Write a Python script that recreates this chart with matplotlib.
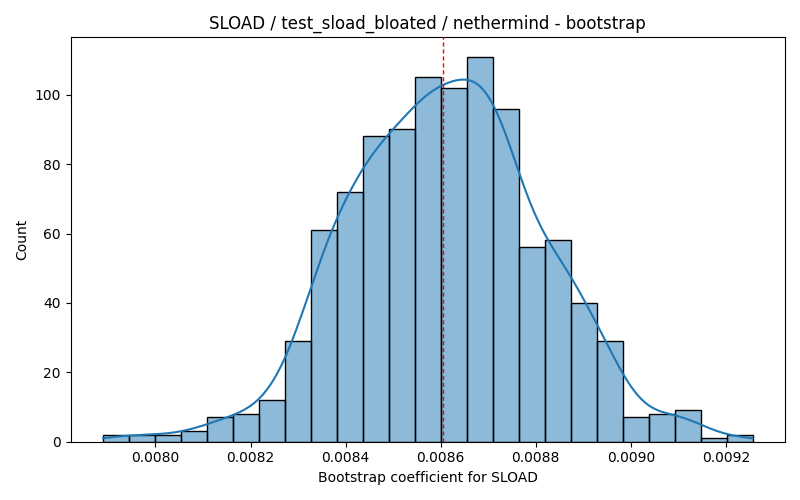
import matplotlib
matplotlib.use("Agg")
import matplotlib.pyplot as plt
import numpy as np

# bootstrap histogram
bin_start = 0.0078899
bin_end = 0.0092559
counts = [2, 2, 2, 3, 7, 8, 12, 29, 61, 72, 88, 90, 105, 102, 111,
          96, 56, 58, 40, 29, 7, 8, 9, 1, 2]
ref_value = 0.008604

edges = np.linspace(bin_start, bin_end, len(counts) + 1)
centers = (edges[:-1] + edges[1:]) / 2
width = edges[1] - edges[0]
counts = np.array(counts)

# gaussian kde of the binned samples (scott's rule)
samples = np.repeat(centers, counts)
n = len(samples)
sd = np.sqrt(samples.var(ddof=1) + width**2 / 12)
bw = sd * n ** (-1 / 5)
grid = np.linspace(edges[0], edges[-1], 200)
dens = np.exp(-0.5 * ((grid[:, None] - samples[None, :]) / bw) ** 2).sum(axis=1)
dens = dens / (n * bw * np.sqrt(2 * np.pi))
kde = dens * n * width

fig, ax = plt.subplots(figsize=(8, 5), dpi=100)
ax.bar(centers, counts, width=width, facecolor=(0.122, 0.467, 0.706, 0.5),
       edgecolor="black", linewidth=1)
ax.plot(grid, kde, color="#1f77b4", linewidth=1.5)
ax.axvline(ref_value, color="red", linestyle=(0, (3, 2)), linewidth=1, zorder=5)

ax.set_xlim(edges[0] - 0.05 * (edges[-1] - edges[0]), edges[-1] + 0.05 * (edges[-1] - edges[0]))
ax.set_ylim(0, counts.max() * 1.05)
ax.set_xticks([0.0080, 0.0082, 0.0084, 0.0086, 0.0088, 0.0090, 0.0092])
ax.set_xticklabels(["0.0080", "0.0082", "0.0084", "0.0086", "0.0088", "0.0090", "0.0092"])
ax.set_xlabel("Bootstrap coefficient for SLOAD")
ax.set_ylabel("Count")
ax.set_title("SLOAD / test_sload_bloated / nethermind - bootstrap")
fig.tight_layout()
fig.savefig("out.png")
